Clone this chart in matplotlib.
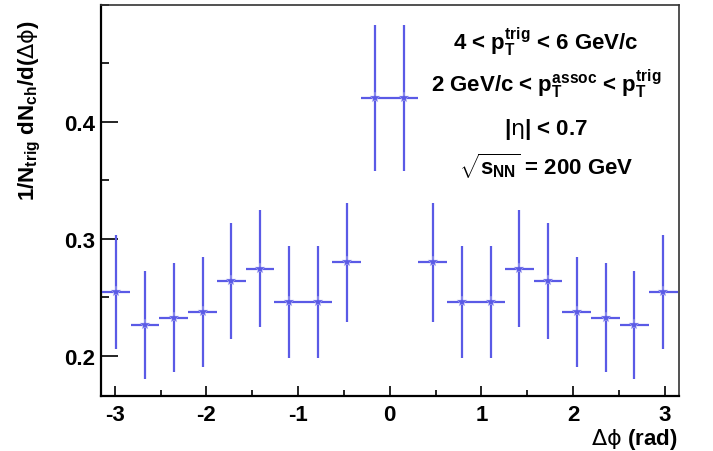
import matplotlib
matplotlib.use('Agg')
import matplotlib.pyplot as plt
from matplotlib.ticker import MultipleLocator

# Daten: Delta-phi Korrelation
dphi = [-2.985, -2.670, -2.356, -2.042, -1.728, -1.414, -1.100, -0.785, -0.471, -0.157,
        0.157, 0.471, 0.785, 1.100, 1.414, 1.728, 2.042, 2.356, 2.670, 2.985]
yield_vals = [0.2547, 0.2262, 0.2325, 0.2371, 0.2639, 0.2744, 0.2462, 0.2462, 0.2799, 0.4205,
              0.4205, 0.2799, 0.2462, 0.2462, 0.2744, 0.2639, 0.2371, 0.2325, 0.2262, 0.2547]
yield_err = [0.0486, 0.0460, 0.0466, 0.0470, 0.0495, 0.0502, 0.0480, 0.0480, 0.0510, 0.0626,
             0.0626, 0.0510, 0.0480, 0.0480, 0.0502, 0.0495, 0.0470, 0.0466, 0.0460, 0.0486]
bin_half = 0.157

plt.rcParams['font.family'] = 'Liberation Sans'
plt.rcParams['font.weight'] = 'bold'
plt.rcParams['axes.unicode_minus'] = False
plt.rcParams['mathtext.fontset'] = 'custom'
plt.rcParams['mathtext.rm'] = 'Liberation Sans:bold'
plt.rcParams['mathtext.it'] = 'Liberation Sans:bold'
plt.rcParams['mathtext.bf'] = 'Liberation Sans:bold'
plt.rcParams['mathtext.sf'] = 'DejaVu Sans:normal'

col = '#5a5ae6'

fig = plt.figure(figsize=(7.13, 4.52), dpi=100)
ax = fig.add_axes([0.1417, 0.1217, 0.8106, 0.865])

ax.errorbar(dphi, yield_vals, yerr=yield_err, xerr=bin_half, fmt='*', color=col,
            ms=8, mew=0.3, mec='#c8c8f5', elinewidth=1.6, capsize=0, zorder=3)

ax.set_xlim(-3.149, 3.156)
ax.set_ylim(0.1655, 0.5)

ax.xaxis.set_major_locator(MultipleLocator(1))
ax.xaxis.set_minor_locator(MultipleLocator(0.5))
ax.yaxis.set_minor_locator(MultipleLocator(0.05))
ax.set_yticks([0.2, 0.3, 0.4])
ax.set_yticklabels(['0.2', '0.3', '0.4'])

ax.tick_params(axis='x', which='major', direction='in', length=7, width=1.2, labelsize=16, pad=6)
ax.tick_params(axis='x', which='minor', direction='in', length=4, width=1.2)
ax.tick_params(axis='y', which='major', direction='in', length=12, width=1.2, labelsize=16, pad=4)
ax.tick_params(axis='y', which='minor', direction='in', length=6, width=1.2)
for lab in ax.get_xticklabels() + ax.get_yticklabels():
    lab.set_fontweight('bold')

for s in ['left', 'bottom']:
    ax.spines[s].set_linewidth(1.6)
    ax.spines[s].set_color('black')
for s in ['top', 'right']:
    ax.spines[s].set_linewidth(1.2)
    ax.spines[s].set_color('#333333')

# Achsentitel
fig.text(0.042, 1 - 20 / 452, r'1/N$_{trig}$ dN$_{ch}$/d($\mathsf{\Delta\phi}$)', rotation=90,
         ha='center', va='top', fontsize=16)
fig.text(677 / 713, 1 - 440 / 452, r'$\mathsf{\Delta\phi}$ (rad)', ha='right', va='center',
         fontsize=16)

# Beschriftung
tx = 546 / 713
fig.text(tx, 1 - 42 / 452, r'4 < p$_{T}^{trig}$ < 6 GeV/c', ha='center', va='center', fontsize=16)
fig.text(tx, 1 - 84 / 452, r'2 GeV/c < p$_{T}^{assoc}$ < p$_{T}^{trig}$', ha='center', va='center', fontsize=16)
fig.text(tx, 1 - 129 / 452, r'|$\mathsf{\eta}$| < 0.7', ha='center', va='center', fontsize=16)
fig.text(tx, 1 - 166 / 452, r'$\sqrt{s_{NN}}$ = 200 GeV', ha='center', va='center', fontsize=16)

plt.savefig('out.png', dpi=100)
plt.close()
